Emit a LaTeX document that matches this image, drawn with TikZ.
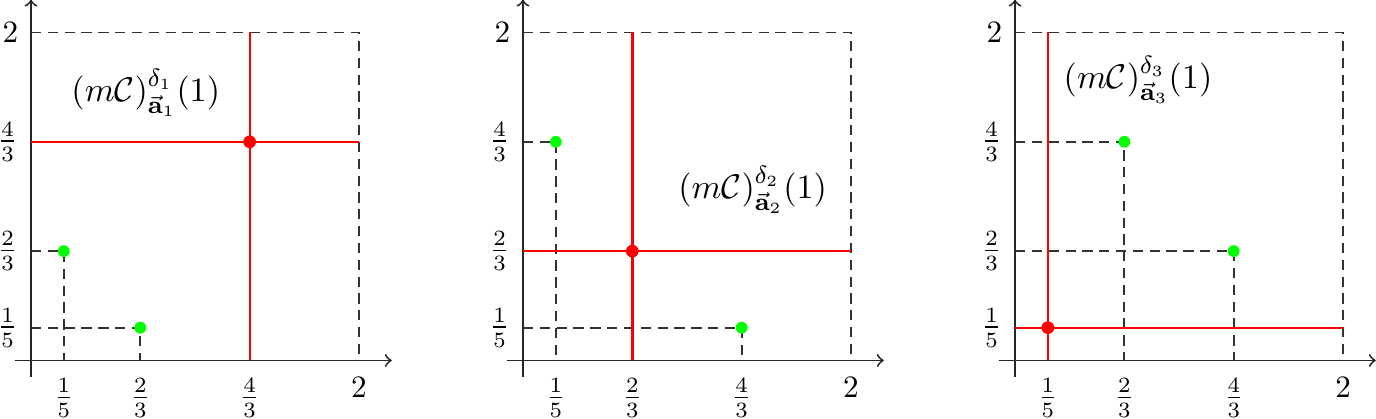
\documentclass[tikz,border=0pt]{standalone}
\usepackage{amsmath,amssymb}
\tikzset{
  axisline/.style={->, line width=0.6pt, black!85},
  guide/.style={dash pattern=on 3.3pt off 2.1pt, line width=0.6pt, black!80},
  redline/.style={red, line width=0.75pt},
  reddot/.style={circle, fill=red, inner sep=0pt, minimum size=4.1pt},
  greendot/.style={circle, fill=green, inner sep=0pt, minimum size=3.8pt},
  tick/.style={inner sep=0pt, font=\fontsize{10.6}{13}\selectfont},
  bigtick/.style={inner sep=0pt},
  panellabel/.style={font=\fontsize{11}{13}\selectfont}
}
\begin{document}
\begin{tikzpicture}[x=1.85cm,y=1.85cm]
\useasboundingbox (-0.189,-0.351) rectangle (8.201,2.198);
\foreach \i/\r/\ax/\ay/\bx/\by/\lx/\ly in {1/{4/3}/{1/5}/{2/3}/{2/3}/{1/5}/0.70/1.63, 2/{2/3}/{1/5}/{4/3}/{4/3}/{1/5}/1.40/1.04, 3/{1/5}/{2/3}/{4/3}/{4/3}/{2/3}/0.75/1.71}{
  \pgfmathsetmacro\sx{(\i-1)*3}
  \begin{scope}[shift={(\sx,0)}]
    % axes
    \coordinate (xs\i) at (-0.1,0);
    \coordinate (xe\i) at (2.2,0);
    \coordinate (ys\i) at (0,-0.1);
    \coordinate (ye\i) at (0,2.2);
    \draw[axisline] (xs\i) -- (xe\i);
    \draw[axisline] (ys\i) -- (ye\i);
    % dashed frame
    \coordinate (tl\i) at (0,2);
    \coordinate (tr\i) at (2,2);
    \coordinate (br\i) at (2,0);
    \draw[guide] (tl\i) -- (tr\i) -- (br\i);
    % green points and their guides
    \coordinate (gac\i) at (\ax,\ay);
    \coordinate (gbc\i) at (\bx,\by);
    \coordinate (gay\i) at (0,\ay);
    \coordinate (gax\i) at (\ax,0);
    \coordinate (gby\i) at (0,\by);
    \coordinate (gbx\i) at (\bx,0);
    \draw[guide] (gay\i) -- (gac\i) -- (gax\i);
    \draw[guide] (gby\i) -- (gbc\i) -- (gbx\i);
    % red lines
    \coordinate (rl\i) at (0,\r);
    \coordinate (rr\i) at (2,\r);
    \coordinate (rb\i) at (\r,0);
    \coordinate (rt\i) at (\r,2);
    \draw[redline] (rl\i) -- (rr\i);
    \draw[redline] (rb\i) -- (rt\i);
    \node[reddot] (rd\i) at (\r,\r) {};
    \node[greendot] (ga\i) at (gac\i) {};
    \node[greendot] (gb\i) at (gbc\i) {};
    % tick labels x
    \node[tick] (xa\i) at (0.2,-0.228) {$\frac{1}{5}$};
    \node[tick] (xb\i) at (2/3,-0.228) {$\frac{2}{3}$};
    \node[tick] (xc\i) at (4/3,-0.228) {$\frac{4}{3}$};
    \node[bigtick] (xd\i) at (2,-0.165) {$2$};
    % tick labels y
    \node[tick] (ya\i) at (-0.143,0.2) {$\frac{1}{5}$};
    \node[tick] (yb\i) at (-0.143,2/3) {$\frac{2}{3}$};
    \node[tick] (yc\i) at (-0.143,4/3) {$\frac{4}{3}$};
    \node[bigtick] (yd\i) at (-0.125,2) {$2$};
    % panel label
    \node[panellabel] (lab\i) at (\lx,\ly) {$(m\mathcal{C})^{\delta_{\i}}_{\vec{\mathbf{a}}_{\i}}(1)$};
  \end{scope}
}
\end{tikzpicture}
\end{document}
